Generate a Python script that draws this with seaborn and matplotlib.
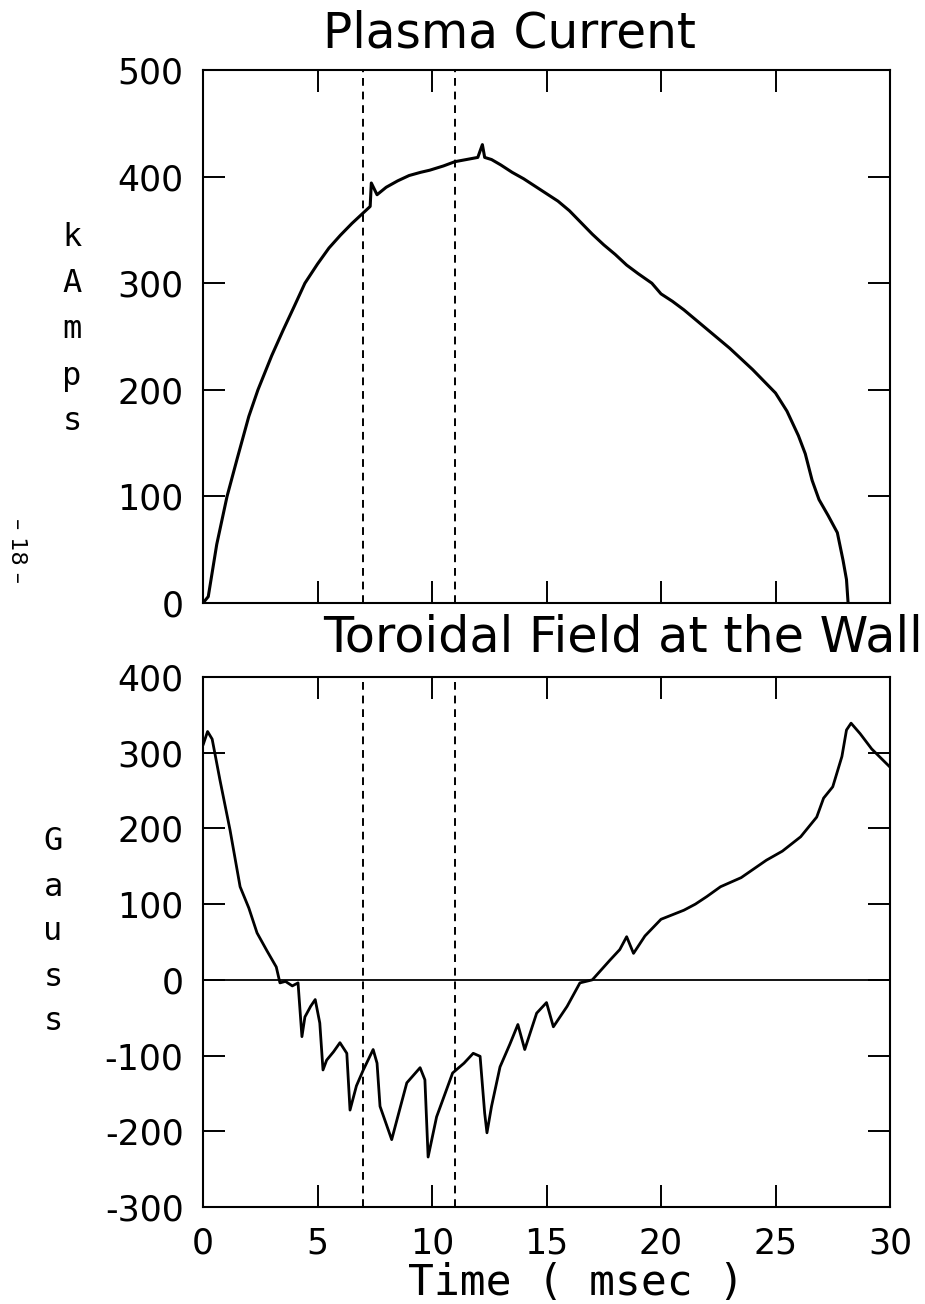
import matplotlib
matplotlib.use("Agg")
import matplotlib.pyplot as plt
import seaborn as sns
import pandas as pd

# ---------------- data ----------------
ip_time = [0, 0.23, 0.6, 1.05, 1.5, 2.0, 2.4, 3.0, 3.5, 4.0, 4.45, 5.0, 5.5, 6.0, 6.5,
           7.0, 7.3, 7.35, 7.6, 8.0, 8.5, 9.0, 9.5, 9.9, 10.5, 11.0, 11.5, 12.0, 12.2,
           12.3, 12.6, 13.0, 13.5, 14.0, 14.5, 15.0, 15.5, 16.0, 16.5, 17.0, 17.5, 18.0,
           18.5, 19.0, 19.6, 20.0, 20.5, 21.0, 21.5, 22.0, 22.5, 23.0, 23.5, 24.0, 24.5,
           25.0, 25.5, 26.0, 26.3, 26.6, 26.9, 27.3, 27.7, 27.95, 28.1, 28.17]
ip_kamps = [0, 6, 55, 100, 136, 175, 200, 232, 256, 279, 300, 318, 333, 345, 356,
            366, 372, 394, 383, 390, 396, 401, 404, 406, 410, 414, 416, 418, 430,
            418, 416, 411, 404, 398, 391, 384, 377, 368, 357, 346, 336, 327,
            317, 309, 300, 290, 283, 275, 266, 257, 248, 239, 229, 219, 208,
            197, 180, 157, 140, 115, 97, 82, 66, 40, 22, 0]

bt_time = [0, 0.2, 0.4, 0.74, 1.18, 1.62, 2.0, 2.36, 2.8, 3.2, 3.36, 3.6, 3.9, 4.15,
           4.32, 4.45, 4.7, 4.9, 5.1, 5.24, 5.4, 5.7, 5.98, 6.28, 6.42, 6.7, 7.0, 7.43,
           7.6, 7.73, 8.24, 8.6, 8.9, 9.48, 9.69, 9.83, 10.2, 10.9, 11.4, 11.8, 12.1,
           12.3, 12.4, 12.6, 12.97, 13.4, 13.75, 14.05, 14.57, 15.0, 15.3, 15.9, 16.46,
           17.0, 17.77, 18.2, 18.5, 18.8, 19.3, 20.0, 20.5, 21.0, 21.5, 22.0, 22.6,
           23.5, 24.6, 25.3, 26.1, 26.8, 27.1, 27.5, 27.9, 28.1, 28.3, 28.7, 29.2, 30.0]
bt_gauss = [310, 328, 318, 264, 198, 123, 95, 62, 38, 17, -4, -2, -8, -4,
            -75, -49, -35, -26, -57, -119, -106, -95, -83, -97, -172, -140, -119, -92,
            -110, -167, -211, -170, -136, -116, -132, -234, -181, -123, -110, -97, -101,
            -176, -202, -167, -115, -85, -59, -92, -44, -30, -62, -35, -4,
            0, 26, 40, 57, 35, 58, 80, 86, 92, 100, 110, 123,
            135, 158, 170, 189, 215, 240, 255, 295, 330, 339, 325, 305, 281]

x_ticks = [0, 5, 10, 15, 20, 25, 30]
top_yticks = [0, 100, 200, 300, 400, 500]
bot_yticks = [-300, -200, -100, 0, 100, 200, 300, 400]
marker_times = [7.0, 11.0]

top_title = "Plasma Current"
bot_title = "Toroidal Field at the Wall"
top_ylabel = "kAmps"
bot_ylabel = "Gauss"
x_label = "Time ( msec )"
page_no = "\u2013 18 \u2013"

# ---------------- style ----------------
sns.set_style("ticks")
plt.rcParams["font.family"] = ["DejaVu Sans", "DejaVu Sans Mono"]
for k in ["text.color", "axes.labelcolor", "xtick.color", "ytick.color", "axes.edgecolor"]:
    plt.rcParams[k] = "black"

W, H = 925, 1304
fig = plt.figure(figsize=(W / 100, H / 100), dpi=100)

def fx(px):
    return px / W

def fy(py):
    return 1 - py / H

ax1 = fig.add_axes([fx(203), fy(603), fx(890) - fx(203), fy(70) - fy(603)])
ax2 = fig.add_axes([fx(203), fy(1207), fx(890) - fx(203), fy(677) - fy(1207)])

df_ip = pd.DataFrame({"t": ip_time, "v": ip_kamps})
df_bt = pd.DataFrame({"t": bt_time, "v": bt_gauss})

sns.lineplot(data=df_ip, x="t", y="v", ax=ax1, color="black", linewidth=2.2,
             estimator=None, sort=False)
sns.lineplot(data=df_bt, x="t", y="v", ax=ax2, color="black", linewidth=2.0,
             estimator=None, sort=False)

ax2.axhline(0, color="black", linewidth=1.3, zorder=1)

for ax, yt, ylim in [(ax1, top_yticks, (0, 500)), (ax2, bot_yticks, (-300, 400))]:
    for t in marker_times:
        ax.axvline(t, color="black", linewidth=1.4, linestyle=(0, (4, 3)))
    ax.set_xlim(0, 30)
    ax.set_ylim(*ylim)
    ax.set_xticks(x_ticks)
    ax.set_yticks(yt)
    ax.set_xlabel("")
    ax.set_ylabel("")
    ax.tick_params(direction="in", length=16, width=1.4, top=True, right=True,
                   labelsize=25, pad=14, colors="black")
    for s in ax.spines.values():
        s.set_visible(True)
        s.set_linewidth(1.5)
        s.set_color("black")

ax1.tick_params(labelbottom=False)
ax2.set_yticklabels([str(v) for v in bot_yticks])
ax1.set_yticklabels([str(v) for v in top_yticks])
ax2.set_xticklabels([str(v) for v in x_ticks])

# titles
fig.text(fx(323), fy(47), top_title, fontsize=35, ha="left", va="baseline")
fig.text(fx(323), fy(652), bot_title, fontsize=35.5, ha="left", va="baseline")

# stacked y labels
for i, ch in enumerate(top_ylabel):
    fig.text(fx(72), fy(238 + 46 * i), ch, fontsize=23, ha="center", va="center",
             family="DejaVu Sans Mono")
for i, ch in enumerate(bot_ylabel):
    fig.text(fx(53), fy(842 + 45 * i), ch, fontsize=23, ha="center", va="center",
             family="DejaVu Sans Mono")

# x label
fig.text(fx(408), fy(1295), x_label, fontsize=31, ha="left", va="baseline",
         family="DejaVu Sans Mono")

# page number
fig.text(fx(17), fy(550), page_no, fontsize=16, rotation=-90, ha="center",
         va="center")

fig.savefig("out.png", dpi=100, facecolor="white")
